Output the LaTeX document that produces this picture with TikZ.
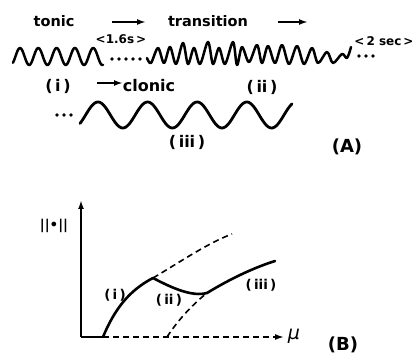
\documentclass[tikz,border=0pt]{standalone}
\usepackage{fontspec}
\setmainfont{DejaVu Sans}
\usetikzlibrary{arrows.meta}
\begin{document}
\begin{tikzpicture}[x=1pt,y=-1pt,
  lbl/.style={inner sep=0pt,font=\bfseries\fontsize{14.5}{16}\selectfont},
  plbl/.style={inner sep=0pt,font=\bfseries\fontsize{16}{18}\selectfont},
  small/.style={inner sep=0pt,font=\bfseries\fontsize{12}{13}\selectfont},
  big/.style={inner sep=0pt,font=\bfseries\fontsize{18}{20}\selectfont},
  glbl/.style={inner sep=0pt,font=\bfseries\fontsize{13.5}{15}\selectfont},
  wave/.style={line width=2.5pt,line join=round,line cap=round},
  axis/.style={line width=1.8pt},
  curve/.style={line width=2.6pt,line cap=round},
  dcurve/.style={line width=1.6pt,dash pattern=on 6pt off 4pt},
  tip/.style={-{Latex[length=9pt,width=6pt]}},
  dotm/.style={circle,fill,inner sep=0pt,minimum size=3.6pt}]
\useasboundingbox (0,0) rectangle (415,358);
% ---------- (A) ----------
\node[lbl] (tonic) at (54,21) {tonic};
\node[lbl] (trans) at (208,21) {transition};
\coordinate (a1s) at (112,22); \coordinate (a1e) at (146,22);
\coordinate (a2s) at (278,22); \coordinate (a2e) at (308,22);
\draw[axis,tip] (a1s) -- (a1e);
\draw[axis,tip] (a2s) -- (a2e);
\node[small] (t16) at (121,39) {<1.6s\,>};
\node[small] (t2) at (384,41) {<\,2 sec\,>};
% wave (i)
\draw[wave] plot[domain=13:103,samples=120,smooth] (\x,{56.5-8.5*cos(((\x-20)/18.3)*360)});
% dots
\foreach \i/\xx in {1/112,2/119,3/126,4/133,5/140}
  \node[dotm] (d\i) at (\xx,59) {};
\foreach \i/\xx in {1/359,2/366,3/373}
  \node[dotm] (e\i) at (\xx,56) {};
% transition wave
\draw[wave] plot[smooth,tension=0.55] coordinates {
 (147,58) (151,63) (158,48) (164,63) (170,47) (176,64) (183,43) (188,64)
 (194,48) (200,64) (208,42) (213,64) (219,48) (225,64) (233,42) (237,65)
 (242,47) (249,62) (257,45) (262,63) (268,46) (275,63) (282,45) (289,64)
 (297,46) (304,64) (312,48) (318,63) (327,52) (333,63) (342,54) (347,58) (351,47)};
\node[plbl] (i1) at (58,86) {(\,i\,)};
\node[plbl] (ii1) at (262,87) {(\,ii\,)};
\coordinate (a3s) at (97,83); \coordinate (a3e) at (123,83);
\draw[axis,tip] (a3s) -- (a3e);
\node[plbl] (clonic) at (149,86) {clonic};
\foreach \i/\xx in {1/57,2/64,3/71}
  \node[dotm] (f\i) at (\xx,115) {};
% clonic wave
\draw[line width=2.8pt,line cap=round] plot[domain=80:292,samples=150,smooth] (\x,{115-13*cos(((\x-98)/49.6)*360)});
\node[plbl] (iii1) at (187,142) {(\,iii\,)};
\node[big] (A) at (347,147) {(A)};
% ---------- (B) ----------
\coordinate (O) at (81,337);
\coordinate (Ytop) at (81,200);
\coordinate (X1) at (103,337);
\coordinate (Xend) at (284,337);
\coordinate (P) at (153,278);
\coordinate (Q) at (207,293);
\coordinate (R) at (275,261);
\coordinate (U) at (232,234);
\coordinate (L) at (167,337);
\draw[axis,tip] (O) -- (Ytop);
\draw[axis] (O) -- (X1);
\draw[dcurve,tip] (X1) -- (Xend);
\node[inner sep=0pt,font=\itshape\fontsize{19}{21}\selectfont] (mu) at (294,336) {μ};
\node[big] (B) at (343,345) {(B)};
\node[glbl] (norm) at (54,226) {||•||};
\draw[curve] (X1) .. controls (115,308) and (130,290) .. (P);
\draw[dcurve] (P) .. controls (180,262) and (208,243) .. (U);
\draw[curve] (P) .. controls (172,288) and (192,297) .. (Q);
\draw[curve] (Q) .. controls (230,279) and (253,268) .. (R);
\draw[dcurve] (L) .. controls (178,320) and (193,304) .. (Q);
\node[glbl] (gi) at (115,295) {(\,i\,)};
\node[glbl] (gii) at (169,300) {(\,ii\,)};
\node[glbl] (giii) at (261,285) {(\,iii\,)};
\end{tikzpicture}
\end{document}
